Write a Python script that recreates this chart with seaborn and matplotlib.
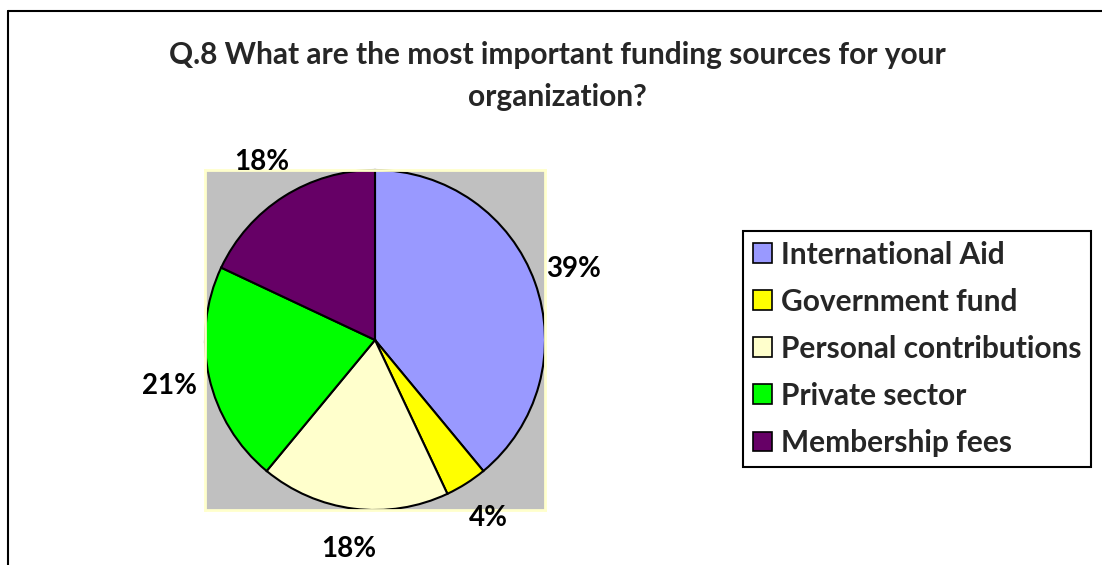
import matplotlib
matplotlib.use("Agg")
import matplotlib.pyplot as plt
import seaborn as sns
from matplotlib.lines import Line2D
from matplotlib.patches import Patch

# --- Data ---
categories = ["International Aid", "Government fund", "Personal contributions",
              "Private sector", "Membership fees"]
shares = [39, 4, 18, 21, 18]
colors = ["#9999FF", "#FFFF00", "#FFFFCC", "#00FF00", "#660066"]
title = "Q.8 What are the most important funding sources for your\norganization?"

sns.set_theme(style="white")
plt.rcParams["font.family"] = ["Lato", "DejaVu Sans"]

W, H = 1102, 565
fig = plt.figure(figsize=(W / 100, H / 100), dpi=100)
fig.patch.set_facecolor("white")

# outer chart border (cut off right/bottom like the source)
fig.add_artist(Line2D([8 / W, 8 / W], [0, 1 - 11 / H], color="black", lw=1.5))
fig.add_artist(Line2D([8 / W, 1], [1 - 11 / H, 1 - 11 / H], color="black", lw=1.5))

# plot area
ax = fig.add_axes([205 / W, 55 / H, 340 / W, 340 / H])
wedges, texts, autotexts = ax.pie(
    shares, colors=colors, startangle=90, counterclock=False,
    autopct="%1.0f%%", pctdistance=1.24, radius=1,
    wedgeprops=dict(edgecolor="black", linewidth=1.5),
    textprops=dict(fontsize=20, fontweight="bold", color="black"),
)
ax.set_frame_on(True)
ax.set_facecolor("#C0C0C0")
ax.set_xlim(-1, 1)
ax.set_ylim(-1, 1)
ax.set_aspect("auto")
ax.set_xticks([])
ax.set_yticks([])
for s in ax.spines.values():
    s.set_visible(True)
    s.set_color("#FFFFCC")
    s.set_linewidth(2)

fig.text(557 / W, 1 - 76 / H, title, ha="center", va="center",
         fontsize=21.5, fontweight="bold", linespacing=1.63)

handles = [Patch(facecolor=c, edgecolor="black", linewidth=1.2) for c in colors]
leg = fig.legend(handles, categories, loc="upper left",
                 bbox_to_anchor=(743 / W, 1 - 231 / H),
                 prop=dict(size=21.5, weight="bold"),
                 handlelength=0.65, handleheight=0.65, handletextpad=0.3,
                 labelspacing=0.64, borderpad=0.32, borderaxespad=0,
                 frameon=True, fancybox=False, framealpha=1)
leg.get_frame().set_edgecolor("black")
leg.get_frame().set_linewidth(1.5)

fig.savefig("out.png", dpi=100, facecolor="white")
